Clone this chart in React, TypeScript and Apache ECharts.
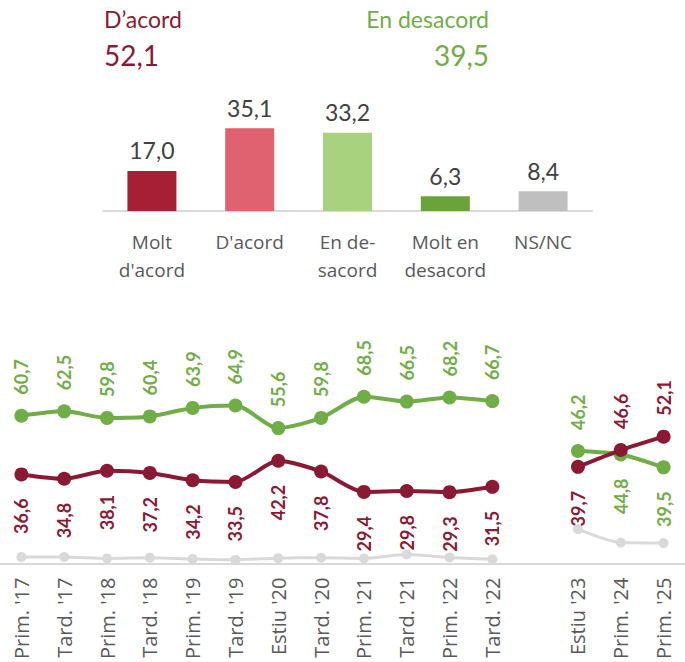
import React, { useEffect, useRef } from 'react';
import * as echarts from 'echarts';

const headlineLabels = ['D’acord', 'En desacord'];
const headlineValues = [52.1, 39.5];

const barCategories = ["Molt\nd'acord", "D'acord", 'En de-\nsacord', 'Molt en\ndesacord', 'NS/NC'];
const barValues = [17.0, 35.1, 33.2, 6.3, 8.4];

const periods = [
  "Prim. '17", "Tard. '17", "Prim. '18", "Tard. '18", "Prim. '19", "Tard. '19",
  "Estiu '20", "Tard. '20", "Prim. '21", "Tard. '21", "Prim. '22", "Tard. '22",
  '', "Estiu '23", "Prim. '24", "Prim. '25",
];
const agreeValues = [36.6, 34.8, 38.1, 37.2, 34.2, 33.5, 42.2, 37.8, 29.4, 29.8, 29.3, 31.5, null, 39.7, 46.6, 52.1];
const disagreeValues = [60.7, 62.5, 59.8, 60.4, 63.9, 64.9, 55.6, 59.8, 68.5, 66.5, 68.2, 66.7, null, 46.2, 44.8, 39.5];
const nsncValues = [2.7, 2.7, 2.1, 2.4, 1.9, 1.6, 2.2, 2.4, 2.1, 3.7, 2.5, 1.8, null, 14.1, 8.6, 8.4];
// periods in which the agree label sits above the line (and disagree below)
const agreeOnTop = ["Prim. '24", "Prim. '25"];

const RED = '#8A1A33';
const GREEN = '#70AD47';
const barColors = ['#A61F35', '#E0616F', '#A9D27E', '#6AA33A', '#BFBFBF'];

const fmt = (v: number) => v.toFixed(1).replace('.', ',');

export default function App() {
  const ref = useRef<HTMLDivElement>(null);
  useEffect(() => {
    if (!ref.current) return;
    const chart = echarts.init(ref.current, null, { renderer: 'svg' });

    const labelData = (vals: (number | null)[], top: (p: string) => boolean) =>
      vals
        .map((v, i) => (v == null ? null : [i, v, top(periods[i]) ? 1 : 0]))
        .filter((d) => d !== null);

    const labelSeries = (vals: (number | null)[], top: (p: string) => boolean, color: string) => ({
      type: 'custom', xAxisIndex: 1, yAxisIndex: 1, z: 5, silent: true,
      data: labelData(vals, top),
      renderItem: (_params: any, api: any) => {
        const v = api.value(1);
        const up = api.value(2) === 1;
        const pt = api.coord([api.value(0), v]);
        return {
          type: 'group',
          x: pt[0],
          y: up ? pt[1] - 21 : pt[1] + 24,
          rotation: Math.PI / 2,
          children: [
            {
              type: 'text',
              x: 0,
              y: 0,
              style: {
                text: fmt(v), fill: color, font: 'bold 18px Lato',
                align: up ? 'left' : 'right', verticalAlign: 'middle',
              },
            },
          ],
        };
      },
    });

    const option: any = {
      animation: false,
      backgroundColor: '#ffffff',
      graphic: [
        { type: 'text', left: 104, top: 7, style: { text: headlineLabels[0], fill: RED, font: '23px Lato' } },
        { type: 'text', left: 104, top: 41, style: { text: fmt(headlineValues[0]), fill: RED, font: '28px Lato' } },
        { type: 'text', right: 685 - 489, top: 7, style: { text: headlineLabels[1], fill: GREEN, font: '23px Lato' } },
        { type: 'text', right: 685 - 489, top: 41, style: { text: fmt(headlineValues[1]), fill: GREEN, font: '28px Lato' } },
      ],
      grid: [
        { left: 103, right: 93, top: 93, bottom: 662 - 211 },
        { left: -5.7, right: -3.7, top: 320, bottom: 662 - 571 },
      ],
      xAxis: [
        {
          type: 'category', gridIndex: 0, data: barCategories,
          axisTick: { show: false },
          axisLine: { lineStyle: { color: '#D9D9D9', width: 2 } },
          axisLabel: { color: '#595959', fontFamily: 'Open Sans', fontSize: 19, lineHeight: 28, margin: 17, interval: 0 },
        },
        {
          type: 'category', gridIndex: 1, data: periods,
          axisTick: { show: false },
          axisLine: { lineStyle: { color: '#D9D9D9', width: 2 } },
          axisLabel: { color: '#595959', fontFamily: 'Open Sans', fontSize: 20, rotate: 90, margin: 14, interval: 0 },
        },
      ],
      yAxis: [
        { type: 'value', gridIndex: 0, min: 0, max: 50, show: false },
        { type: 'value', gridIndex: 1, min: 0, max: 100, show: false },
      ],
      series: [
        {
          type: 'bar', xAxisIndex: 0, yAxisIndex: 0, barWidth: 49,
          data: barValues.map((v, i) => ({ value: v, itemStyle: { color: barColors[i] } })),
          label: { show: true, position: 'top', distance: 9, color: '#404040', fontFamily: 'Lato', fontSize: 23, formatter: (p: any) => fmt(p.value) },
        },
        {
          type: 'line', xAxisIndex: 1, yAxisIndex: 1, data: nsncValues.map((v) => (v == null ? '-' : v)),
          symbol: 'circle', symbolSize: 10, smooth: 0.25,
          lineStyle: { color: '#D9D9D9', width: 3 }, itemStyle: { color: '#D9D9D9' },
          z: 1,
        },
        {
          type: 'line', xAxisIndex: 1, yAxisIndex: 1,
          data: disagreeValues.map((v) => (v == null ? '-' : v)),
          symbol: 'circle', symbolSize: 14, smooth: 0.25,
          lineStyle: { color: GREEN, width: 4 }, itemStyle: { color: GREEN },
          z: 2,
        },
        {
          type: 'line', xAxisIndex: 1, yAxisIndex: 1,
          data: agreeValues.map((v) => (v == null ? '-' : v)),
          symbol: 'circle', symbolSize: 14, smooth: 0.25,
          lineStyle: { color: RED, width: 4 }, itemStyle: { color: RED },
          z: 3,
        },
        labelSeries(disagreeValues, (p) => !agreeOnTop.includes(p), GREEN),
        labelSeries(agreeValues, (p) => agreeOnTop.includes(p), RED),
      ],
    };
    chart.setOption(option);
    return () => chart.dispose();
  }, []);
  return <div ref={ref} style={{ position: 'absolute', left: 0, top: 0, width: 685, height: 662 }} />;
}
